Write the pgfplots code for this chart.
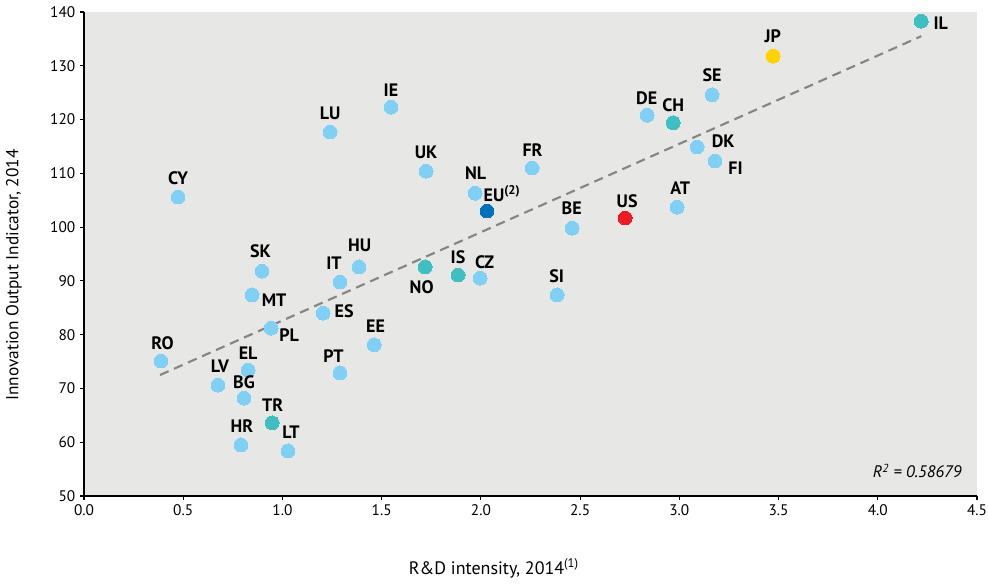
\documentclass[border=0pt]{standalone}
\usepackage{pgfplots}
\usepackage{pgfplotstable}
\pgfplotsset{compat=1.18}
\usepackage{fontspec}
\setmainfont{PT Sans}
\definecolor{ltblue}{HTML}{80D0F5}
\definecolor{tealc}{HTML}{40BFC2}
\definecolor{eublue}{HTML}{0072BC}
\definecolor{usred}{HTML}{ED1C24}
\definecolor{jpyel}{HTML}{FFD200}
\definecolor{bggray}{HTML}{E7E7E5}
\definecolor{trendgray}{HTML}{858585}

\pgfplotstableread{
x y label dx dy
0.474 105.6 CY 0 18.5
0.897 91.8 SK -1.5 20
0.847 87.4 MT 22 -5
0.943 81.2 PL 18 -7
0.388 75.1 RO 1.5 18
0.675 70.6 LV 2 18.5
0.827 73.4 EL 0 17
0.806 68.2 BG 0 16
0.791 59.5 HR 1 19
1.028 58.4 LT 3 19
1.290 89.8 IT -6 19
1.386 92.6 HU 0.5 21.5
1.205 84.0 ES 21 2
1.462 78.1 EE 1.5 19
1.290 72.9 PT -6.5 17
1.996 90.5 CZ 4.5 16.5
2.384 87.4 SI -0.5 19
1.240 117.7 LU 0 19
1.547 122.3 IE 0 17.5
1.724 110.4 UK 0 19
1.971 106.3 NL 0.5 20
2.258 111.0 FR 0.5 18
2.460 99.8 BE -0.5 19.5
2.989 103.7 AT 3 19
2.838 120.8 DE -0.5 17.5
3.165 124.6 SE 0 20
3.090 114.9 DK 26 5.5
3.180 112.3 FI 20.5 -7.5
}\ltbluetab

\pgfplotstableread{
x y label dx dy
0.948 63.6 TR 0.5 18
1.719 92.6 NO -3.5 -20.5
1.885 91.1 IS 0 18
2.969 119.4 CH 0 17.5
4.219 138.3 IL 19.5 -2.5
}\tealtab

\pgfplotstableread{
x y label dx dy
2.031 103.0 {EU\textsuperscript{(2)}} 15 17
}\eutab

\pgfplotstableread{
x y label dx dy
2.727 101.7 US 2 17
}\ustab

\pgfplotstableread{
x y label dx dy
3.473 131.8 JP -0.5 19.5
}\jptab

\pgfplotsset{
  lbl/.style={color=#1, only marks, mark=*, mark size=5.2pt,
    mark options={draw=#1, fill=#1, line width=0pt},
    nodes near coords, point meta=explicit symbolic,
    visualization depends on={\thisrow{dx}\as\dx},
    visualization depends on={\thisrow{dy}\as\dy},
    every node near coord/.append style={anchor=center,
      xshift={0.75*\dx pt}, yshift={0.75*\dy pt},
      font=\bfseries\fontsize{13.5}{15}\selectfont, text=black, inner sep=0pt}}
}

\begin{document}
\begin{tikzpicture}
\useasboundingbox (-63pt,-65.25pt) rectangle (678pt,372pt);
\begin{axis}[
  at={(0,0)}, anchor=south west,
  scale only axis, width=669.75pt, height=363pt,
  xmin=0, xmax=4.5, ymin=50, ymax=140,
  xtick={0,0.5,1,1.5,2,2.5,3,3.5,4,4.5},
  ytick={50,60,70,80,90,100,110,120,130,140},
  axis x line*=bottom, axis y line*=left,
  axis line style={-, black, line width=0.8pt},
  tick style={black, line width=0.8pt},
  tick align=outside, major tick length=3pt,
  axis background/.style={fill=bggray},
  clip=false,
  /pgf/number format/assume math mode=true,
  ticklabel style={font=\fontsize{11.5}{13}\selectfont},
  xticklabel style={/pgf/number format/.cd, fixed, fixed zerofill, precision=1},
  yticklabel style={/pgf/number format/.cd, fixed},
  xlabel={R\&D intensity, 2014\textsuperscript{(1)}},
  ylabel={Innovation Output Indicator, 2014},
  xlabel style={at={(axis description cs:0.459,-0.1488)}, anchor=center, font=\fontsize{13.5}{15}\selectfont},
  ylabel style={at={(axis description cs:-0.0785,0.4566)}, anchor=center, font=\fontsize{13}{15}\selectfont},
]
\addplot[trendgray, line width=1.6pt, dash pattern=on 7pt off 4.5pt] coordinates {(0.383,72.5) (4.219,135.5)};
\addplot[lbl=ltblue] table[x=x, y=y, meta=label] {\ltbluetab};
\addplot[lbl=tealc] table[x=x, y=y, meta=label] {\tealtab};
\addplot[lbl=eublue] table[x=x, y=y, meta=label] {\eutab};
\addplot[lbl=usred] table[x=x, y=y, meta=label] {\ustab};
\addplot[lbl=jpyel] table[x=x, y=y, meta=label] {\jptab};
\node[anchor=east, font=\itshape\fontsize{12.5}{14}\selectfont, inner sep=0pt] at (axis description cs:0.983,0.0517) {R\textsuperscript{2} = 0.58679};
\end{axis}
\end{tikzpicture}
\end{document}
